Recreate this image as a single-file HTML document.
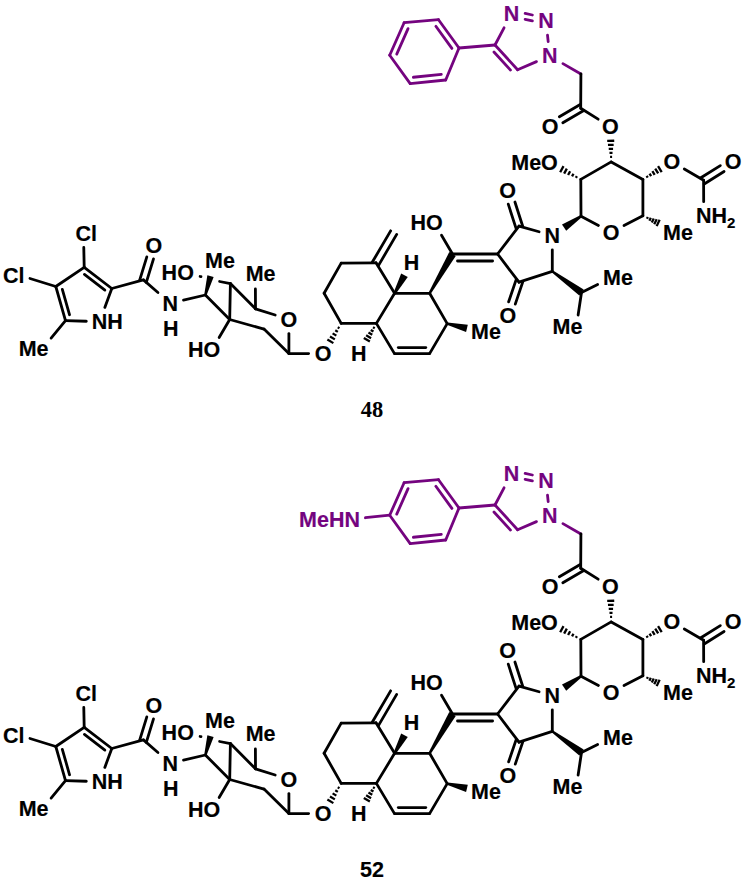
<!DOCTYPE html><html><head><meta charset="utf-8"><style>html,body{margin:0;padding:0;background:#fff;}svg{display:block;}</style></head><body>
<svg width="746" height="889" viewBox="0 0 746 889" style="font-family:'Liberation Sans',sans-serif;font-weight:bold">
<g stroke-width="2.8" stroke-linecap="round" fill="none">
<line x1="404.10" y1="22.70" x2="438.50" y2="19.70" stroke="#74047f"/>
<line x1="438.50" y1="19.70" x2="459.00" y2="48.00" stroke="#74047f"/>
<line x1="459.00" y1="48.00" x2="445.70" y2="80.00" stroke="#74047f"/>
<line x1="445.70" y1="80.00" x2="410.20" y2="83.60" stroke="#74047f"/>
<line x1="410.20" y1="83.60" x2="389.70" y2="55.20" stroke="#74047f"/>
<line x1="389.70" y1="55.20" x2="404.10" y2="22.70" stroke="#74047f"/>
<line x1="396.73" y1="54.16" x2="408.05" y2="28.60" stroke="#74047f"/>
<line x1="435.87" y1="26.30" x2="451.91" y2="48.44" stroke="#74047f"/>
<line x1="441.31" y1="74.41" x2="413.38" y2="77.25" stroke="#74047f"/>
<text x="541.94" y="63.40" fill="#74047f" stroke="#74047f" stroke-width="0.15" font-size="21.5">N</text>
<text x="538.24" y="28.20" fill="#74047f" stroke="#74047f" stroke-width="0.15" font-size="21.5">N</text>
<text x="503.74" y="21.00" fill="#74047f" stroke="#74047f" stroke-width="0.15" font-size="21.5">N</text>
<line x1="459.00" y1="48.00" x2="495.00" y2="45.00" stroke="#74047f"/>
<line x1="495.00" y1="45.00" x2="504.04" y2="27.80" stroke="#74047f"/>
<line x1="547.50" y1="35.10" x2="548.20" y2="41.70" stroke="#74047f"/>
<line x1="536.48" y1="61.64" x2="517.60" y2="69.70" stroke="#74047f"/>
<line x1="517.60" y1="69.70" x2="495.00" y2="45.00" stroke="#74047f"/>
<line x1="510.50" y1="70.09" x2="493.98" y2="52.03" stroke="#74047f"/>
<line x1="525.12" y1="19.40" x2="532.38" y2="20.92" stroke="#74047f"/>
<line x1="525.12" y1="13.48" x2="532.38" y2="15.00" stroke="#74047f"/>
<line x1="562.92" y1="63.62" x2="580.90" y2="74.00" stroke="#74047f"/>
<line x1="580.90" y1="74.00" x2="580.70" y2="108.30" stroke="#000"/>
<text x="541.65" y="133.70" fill="#000" stroke="#000" stroke-width="0.15" font-size="21.5">O</text>
<text x="602.05" y="134.20" fill="#000" stroke="#000" stroke-width="0.15" font-size="21.5">O</text>
<line x1="580.22" y1="104.52" x2="559.36" y2="116.76" stroke="#000"/>
<line x1="583.76" y1="110.56" x2="562.84" y2="122.83" stroke="#000"/>
<line x1="580.70" y1="108.30" x2="598.15" y2="119.17" stroke="#000"/>
<text x="602.85" y="239.60" fill="#000" stroke="#000" stroke-width="0.15" font-size="21.5">O</text>
<line x1="611.20" y1="161.90" x2="642.90" y2="179.40" stroke="#000"/>
<line x1="642.90" y1="179.40" x2="642.90" y2="215.80" stroke="#000"/>
<line x1="642.90" y1="215.80" x2="624.01" y2="225.57" stroke="#000"/>
<line x1="598.45" y1="225.45" x2="581.00" y2="216.20" stroke="#000"/>
<line x1="581.00" y1="216.20" x2="580.80" y2="179.40" stroke="#000"/>
<line x1="580.80" y1="179.40" x2="611.20" y2="161.90" stroke="#000"/>
<line x1="614.23" y1="140.76" x2="607.21" y2="140.92" stroke="#000" stroke-width="2.3" stroke-linecap="butt"/>
<line x1="613.65" y1="144.79" x2="607.97" y2="144.92" stroke="#000" stroke-width="2.3" stroke-linecap="butt"/>
<line x1="613.07" y1="148.82" x2="608.73" y2="148.92" stroke="#000" stroke-width="2.3" stroke-linecap="butt"/>
<line x1="612.50" y1="152.85" x2="609.49" y2="152.92" stroke="#000" stroke-width="2.3" stroke-linecap="butt"/>
<line x1="612.09" y1="156.88" x2="610.09" y2="156.92" stroke="#000" stroke-width="2.3" stroke-linecap="butt"/>
<text x="511.24" y="169.90" fill="#000" stroke="#000" stroke-width="0.15" font-size="21.5">MeO</text>
<line x1="563.51" y1="166.09" x2="560.18" y2="172.27" stroke="#000" stroke-width="2.3" stroke-linecap="butt"/>
<line x1="566.83" y1="168.64" x2="564.14" y2="173.64" stroke="#000" stroke-width="2.3" stroke-linecap="butt"/>
<line x1="570.15" y1="171.20" x2="568.09" y2="175.01" stroke="#000" stroke-width="2.3" stroke-linecap="butt"/>
<line x1="573.47" y1="173.75" x2="572.05" y2="176.38" stroke="#000" stroke-width="2.3" stroke-linecap="butt"/>
<line x1="576.87" y1="176.15" x2="575.92" y2="177.91" stroke="#000" stroke-width="2.3" stroke-linecap="butt"/>
<text x="663.55" y="169.20" fill="#000" stroke="#000" stroke-width="0.15" font-size="21.5">O</text>
<text x="724.65" y="169.20" fill="#000" stroke="#000" stroke-width="0.15" font-size="21.5">O</text>
<text x="695.98" y="223.40" fill="#000" stroke="#000" stroke-width="0.15" font-size="21.5">NH<tspan font-size="15" dy="4.5">2</tspan></text>
<line x1="661.68" y1="172.09" x2="658.06" y2="166.11" stroke="#000" stroke-width="2.3" stroke-linecap="butt"/>
<line x1="658.17" y1="173.46" x2="655.22" y2="168.60" stroke="#000" stroke-width="2.3" stroke-linecap="butt"/>
<line x1="654.66" y1="174.82" x2="652.39" y2="171.08" stroke="#000" stroke-width="2.3" stroke-linecap="butt"/>
<line x1="651.14" y1="176.19" x2="649.55" y2="173.57" stroke="#000" stroke-width="2.3" stroke-linecap="butt"/>
<line x1="647.69" y1="177.66" x2="646.66" y2="175.95" stroke="#000" stroke-width="2.3" stroke-linecap="butt"/>
<line x1="684.29" y1="168.99" x2="703.60" y2="180.20" stroke="#000"/>
<line x1="704.19" y1="183.96" x2="724.06" y2="171.52" stroke="#000"/>
<line x1="700.47" y1="178.03" x2="720.32" y2="165.61" stroke="#000"/>
<line x1="703.60" y1="180.20" x2="703.68" y2="201.70" stroke="#000"/>
<text x="663.01" y="239.90" fill="#000" stroke="#000" stroke-width="0.15" font-size="21.5">Me</text>
<line x1="656.68" y1="226.13" x2="659.63" y2="219.86" stroke="#000" stroke-width="2.3" stroke-linecap="butt"/>
<line x1="654.25" y1="224.31" x2="656.69" y2="219.15" stroke="#000" stroke-width="2.3" stroke-linecap="butt"/>
<line x1="651.83" y1="222.50" x2="653.75" y2="218.43" stroke="#000" stroke-width="2.3" stroke-linecap="butt"/>
<line x1="649.41" y1="220.68" x2="650.80" y2="217.72" stroke="#000" stroke-width="2.3" stroke-linecap="butt"/>
<line x1="646.98" y1="218.86" x2="647.86" y2="217.00" stroke="#000" stroke-width="2.3" stroke-linecap="butt"/>
<text x="544.54" y="242.90" fill="#000" stroke="#000" stroke-width="0.15" font-size="21.5">N</text>
<polygon points="580.33,215.20 581.67,217.20 566.19,230.68 562.00,224.46" fill="#000" stroke="none"/>
<text x="499.35" y="198.40" fill="#000" stroke="#000" stroke-width="0.15" font-size="21.5">O</text>
<text x="499.45" y="322.60" fill="#000" stroke="#000" stroke-width="0.15" font-size="21.5">O</text>
<line x1="539.08" y1="231.77" x2="519.00" y2="226.10" stroke="#000"/>
<line x1="519.00" y1="226.10" x2="497.60" y2="254.00" stroke="#000"/>
<line x1="497.60" y1="254.00" x2="519.00" y2="282.20" stroke="#000"/>
<line x1="519.00" y1="282.20" x2="552.30" y2="271.40" stroke="#000"/>
<line x1="552.30" y1="271.40" x2="552.30" y2="249.80" stroke="#000"/>
<line x1="522.79" y1="226.46" x2="514.93" y2="202.05" stroke="#000"/>
<line x1="516.13" y1="228.60" x2="508.27" y2="204.18" stroke="#000"/>
<line x1="516.17" y1="279.65" x2="508.65" y2="301.81" stroke="#000"/>
<line x1="522.80" y1="281.90" x2="515.27" y2="304.09" stroke="#000"/>
<text x="603.11" y="284.80" fill="#000" stroke="#000" stroke-width="0.15" font-size="21.5">Me</text>
<text x="552.51" y="333.50" fill="#000" stroke="#000" stroke-width="0.15" font-size="21.5">Me</text>
<polygon points="551.60,272.37 553.00,270.43 583.70,289.46 579.30,295.54" fill="#000" stroke="none"/>
<line x1="581.50" y1="292.50" x2="597.65" y2="284.52" stroke="#000"/>
<line x1="581.50" y1="292.50" x2="578.12" y2="315.03" stroke="#000"/>
<text x="410.41" y="230.30" fill="#000" stroke="#000" stroke-width="0.15" font-size="21.5">HO</text>
<line x1="452.50" y1="254.00" x2="497.60" y2="254.00" stroke="#000"/>
<line x1="457.50" y1="261.00" x2="492.60" y2="261.00" stroke="#000"/>
<line x1="452.50" y1="254.00" x2="441.51" y2="235.24" stroke="#000"/>
<line x1="429.60" y1="293.30" x2="447.20" y2="323.60" stroke="#000"/>
<line x1="447.20" y1="323.60" x2="429.60" y2="353.60" stroke="#000"/>
<line x1="429.60" y1="353.60" x2="394.50" y2="353.60" stroke="#000"/>
<line x1="394.50" y1="353.60" x2="376.40" y2="323.40" stroke="#000"/>
<line x1="376.40" y1="323.40" x2="394.60" y2="293.30" stroke="#000"/>
<line x1="394.60" y1="293.30" x2="429.60" y2="293.30" stroke="#000"/>
<line x1="394.60" y1="293.30" x2="376.00" y2="262.80" stroke="#000"/>
<line x1="376.00" y1="262.80" x2="341.20" y2="263.10" stroke="#000"/>
<line x1="341.20" y1="263.10" x2="324.10" y2="293.30" stroke="#000"/>
<line x1="324.10" y1="293.30" x2="341.20" y2="323.40" stroke="#000"/>
<line x1="341.20" y1="323.40" x2="376.40" y2="323.40" stroke="#000"/>
<line x1="425.80" y1="347.60" x2="398.30" y2="347.60" stroke="#000"/>
<line x1="378.26" y1="265.86" x2="396.68" y2="234.37" stroke="#000"/>
<line x1="372.22" y1="262.33" x2="390.64" y2="230.84" stroke="#000"/>
<polygon points="430.64,293.90 428.56,292.70 449.26,252.11 455.74,255.89" fill="#000" stroke="none"/>
<text x="471.01" y="338.90" fill="#000" stroke="#000" stroke-width="0.15" font-size="21.5">Me</text>
<polygon points="446.92,324.77 447.48,322.43 467.83,324.72 466.07,332.01" fill="#000" stroke="none"/>
<text x="403.74" y="269.80" fill="#000" stroke="#000" stroke-width="0.15" font-size="21.5">H</text>
<polygon points="395.65,293.88 393.55,292.72 401.18,273.45 407.76,277.05" fill="#000" stroke="none"/>
<text x="351.04" y="360.90" fill="#000" stroke="#000" stroke-width="0.15" font-size="21.5">H</text>
<line x1="363.84" y1="337.97" x2="369.86" y2="341.49" stroke="#000" stroke-width="2.3" stroke-linecap="butt"/>
<line x1="366.15" y1="335.29" x2="371.06" y2="338.17" stroke="#000" stroke-width="2.3" stroke-linecap="butt"/>
<line x1="368.46" y1="332.61" x2="372.27" y2="334.84" stroke="#000" stroke-width="2.3" stroke-linecap="butt"/>
<line x1="370.77" y1="329.93" x2="373.47" y2="331.51" stroke="#000" stroke-width="2.3" stroke-linecap="butt"/>
<line x1="373.01" y1="327.21" x2="374.74" y2="328.22" stroke="#000" stroke-width="2.3" stroke-linecap="butt"/>
<text x="314.65" y="360.90" fill="#000" stroke="#000" stroke-width="0.15" font-size="21.5">O</text>
<line x1="327.37" y1="339.50" x2="333.37" y2="343.13" stroke="#000" stroke-width="2.3" stroke-linecap="butt"/>
<line x1="330.00" y1="336.44" x2="334.86" y2="339.37" stroke="#000" stroke-width="2.3" stroke-linecap="butt"/>
<line x1="332.63" y1="333.37" x2="336.35" y2="335.62" stroke="#000" stroke-width="2.3" stroke-linecap="butt"/>
<line x1="335.26" y1="330.31" x2="337.84" y2="331.87" stroke="#000" stroke-width="2.3" stroke-linecap="butt"/>
<line x1="337.76" y1="327.16" x2="339.47" y2="328.20" stroke="#000" stroke-width="2.3" stroke-linecap="butt"/>
<line x1="308.63" y1="353.54" x2="288.90" y2="353.60" stroke="#000"/>
<text x="280.55" y="326.70" fill="#000" stroke="#000" stroke-width="0.15" font-size="21.5">O</text>
<line x1="288.90" y1="353.60" x2="288.90" y2="333.60" stroke="#000"/>
<line x1="275.16" y1="314.98" x2="255.50" y2="308.80" stroke="#000"/>
<line x1="255.50" y1="308.80" x2="255.40" y2="289.00" stroke="#000"/>
<line x1="230.40" y1="283.60" x2="255.50" y2="308.80" stroke="#000"/>
<line x1="230.40" y1="283.60" x2="229.70" y2="319.50" stroke="#000"/>
<line x1="229.70" y1="319.50" x2="264.00" y2="329.10" stroke="#000"/>
<line x1="264.00" y1="329.10" x2="288.90" y2="353.60" stroke="#000"/>
<line x1="205.40" y1="295.00" x2="229.70" y2="319.50" stroke="#000"/>
<text x="245.71" y="280.60" fill="#000" stroke="#000" stroke-width="0.15" font-size="21.5">Me</text>
<text x="187.91" y="357.30" fill="#000" stroke="#000" stroke-width="0.15" font-size="21.5">HO</text>
<line x1="229.70" y1="319.50" x2="219.14" y2="337.42" stroke="#000"/>
<polygon points="206.56,295.31 204.24,294.69 207.36,275.35 213.64,277.05" fill="#000" stroke="none"/>
<text x="205.11" y="267.70" fill="#000" stroke="#000" stroke-width="0.15" font-size="21.5">Me</text>
<text x="161.61" y="279.60" fill="#000" stroke="#000" stroke-width="0.15" font-size="21.5">HO</text>
<line x1="200.10" y1="276.50" x2="201.00" y2="276.70" stroke="#000"/>
<line x1="219.60" y1="281.50" x2="230.40" y2="283.60" stroke="#000"/>
<text x="162.54" y="310.60" fill="#000" stroke="#000" stroke-width="0.15" font-size="21.5">N</text>
<line x1="183.52" y1="300.11" x2="205.40" y2="295.00" stroke="#000"/>
<text x="162.94" y="336.40" fill="#000" stroke="#000" stroke-width="0.15" font-size="21.5">H</text>
<text x="91.78" y="329.10" fill="#000" stroke="#000" stroke-width="0.15" font-size="21.5">NH</text>
<line x1="84.20" y1="267.30" x2="111.80" y2="288.50" stroke="#000"/>
<line x1="111.80" y1="288.50" x2="104.82" y2="307.40" stroke="#000"/>
<line x1="86.32" y1="321.27" x2="65.50" y2="320.60" stroke="#000"/>
<line x1="65.50" y1="320.60" x2="55.80" y2="286.50" stroke="#000"/>
<line x1="55.80" y1="286.50" x2="84.20" y2="267.30" stroke="#000"/>
<line x1="104.88" y1="290.12" x2="84.42" y2="274.40" stroke="#000"/>
<line x1="62.32" y1="289.32" x2="69.56" y2="314.77" stroke="#000"/>
<text x="75.57" y="240.60" fill="#000" stroke="#000" stroke-width="0.15" font-size="21.5">Cl</text>
<line x1="84.20" y1="267.30" x2="83.78" y2="247.50" stroke="#000"/>
<text x="3.07" y="283.30" fill="#000" stroke="#000" stroke-width="0.15" font-size="21.5">Cl</text>
<line x1="55.80" y1="286.50" x2="29.95" y2="278.49" stroke="#000"/>
<text x="18.71" y="355.70" fill="#000" stroke="#000" stroke-width="0.15" font-size="21.5">Me</text>
<line x1="65.50" y1="320.60" x2="51.11" y2="338.05" stroke="#000"/>
<text x="145.55" y="253.10" fill="#000" stroke="#000" stroke-width="0.15" font-size="21.5">O</text>
<line x1="111.80" y1="288.50" x2="143.40" y2="279.90" stroke="#000"/>
<line x1="143.40" y1="279.90" x2="157.93" y2="292.49" stroke="#000"/>
<line x1="146.31" y1="282.36" x2="153.51" y2="258.89" stroke="#000"/>
<line x1="139.61" y1="280.31" x2="146.82" y2="256.84" stroke="#000"/>
<line x1="404.10" y1="482.70" x2="438.50" y2="479.70" stroke="#74047f"/>
<line x1="438.50" y1="479.70" x2="459.00" y2="508.00" stroke="#74047f"/>
<line x1="459.00" y1="508.00" x2="445.70" y2="540.00" stroke="#74047f"/>
<line x1="445.70" y1="540.00" x2="410.20" y2="543.60" stroke="#74047f"/>
<line x1="410.20" y1="543.60" x2="389.70" y2="515.20" stroke="#74047f"/>
<line x1="389.70" y1="515.20" x2="404.10" y2="482.70" stroke="#74047f"/>
<line x1="396.73" y1="514.16" x2="408.05" y2="488.60" stroke="#74047f"/>
<line x1="435.87" y1="486.30" x2="451.91" y2="508.44" stroke="#74047f"/>
<line x1="441.31" y1="534.41" x2="413.38" y2="537.25" stroke="#74047f"/>
<text x="299.05" y="526.50" fill="#74047f" stroke="#74047f" stroke-width="0.15" font-size="21.5">MeHN</text>
<line x1="389.70" y1="515.20" x2="365.42" y2="517.73" stroke="#74047f"/>
<text x="541.94" y="523.40" fill="#74047f" stroke="#74047f" stroke-width="0.15" font-size="21.5">N</text>
<text x="538.24" y="488.20" fill="#74047f" stroke="#74047f" stroke-width="0.15" font-size="21.5">N</text>
<text x="503.74" y="481.00" fill="#74047f" stroke="#74047f" stroke-width="0.15" font-size="21.5">N</text>
<line x1="459.00" y1="508.00" x2="495.00" y2="505.00" stroke="#74047f"/>
<line x1="495.00" y1="505.00" x2="504.04" y2="487.80" stroke="#74047f"/>
<line x1="547.50" y1="495.10" x2="548.20" y2="501.70" stroke="#74047f"/>
<line x1="536.48" y1="521.64" x2="517.60" y2="529.70" stroke="#74047f"/>
<line x1="517.60" y1="529.70" x2="495.00" y2="505.00" stroke="#74047f"/>
<line x1="510.50" y1="530.09" x2="493.98" y2="512.03" stroke="#74047f"/>
<line x1="525.12" y1="479.40" x2="532.38" y2="480.92" stroke="#74047f"/>
<line x1="525.12" y1="473.48" x2="532.38" y2="475.00" stroke="#74047f"/>
<line x1="562.92" y1="523.62" x2="580.90" y2="534.00" stroke="#74047f"/>
<line x1="580.90" y1="534.00" x2="580.70" y2="568.30" stroke="#000"/>
<text x="541.65" y="593.70" fill="#000" stroke="#000" stroke-width="0.15" font-size="21.5">O</text>
<text x="602.05" y="594.20" fill="#000" stroke="#000" stroke-width="0.15" font-size="21.5">O</text>
<line x1="580.22" y1="564.52" x2="559.36" y2="576.76" stroke="#000"/>
<line x1="583.76" y1="570.56" x2="562.84" y2="582.83" stroke="#000"/>
<line x1="580.70" y1="568.30" x2="598.15" y2="579.17" stroke="#000"/>
<text x="602.85" y="699.60" fill="#000" stroke="#000" stroke-width="0.15" font-size="21.5">O</text>
<line x1="611.20" y1="621.90" x2="642.90" y2="639.40" stroke="#000"/>
<line x1="642.90" y1="639.40" x2="642.90" y2="675.80" stroke="#000"/>
<line x1="642.90" y1="675.80" x2="624.01" y2="685.57" stroke="#000"/>
<line x1="598.45" y1="685.45" x2="581.00" y2="676.20" stroke="#000"/>
<line x1="581.00" y1="676.20" x2="580.80" y2="639.40" stroke="#000"/>
<line x1="580.80" y1="639.40" x2="611.20" y2="621.90" stroke="#000"/>
<line x1="614.23" y1="600.76" x2="607.21" y2="600.92" stroke="#000" stroke-width="2.3" stroke-linecap="butt"/>
<line x1="613.65" y1="604.79" x2="607.97" y2="604.92" stroke="#000" stroke-width="2.3" stroke-linecap="butt"/>
<line x1="613.07" y1="608.82" x2="608.73" y2="608.92" stroke="#000" stroke-width="2.3" stroke-linecap="butt"/>
<line x1="612.50" y1="612.85" x2="609.49" y2="612.92" stroke="#000" stroke-width="2.3" stroke-linecap="butt"/>
<line x1="612.09" y1="616.88" x2="610.09" y2="616.92" stroke="#000" stroke-width="2.3" stroke-linecap="butt"/>
<text x="511.24" y="629.90" fill="#000" stroke="#000" stroke-width="0.15" font-size="21.5">MeO</text>
<line x1="563.51" y1="626.09" x2="560.18" y2="632.27" stroke="#000" stroke-width="2.3" stroke-linecap="butt"/>
<line x1="566.83" y1="628.64" x2="564.14" y2="633.64" stroke="#000" stroke-width="2.3" stroke-linecap="butt"/>
<line x1="570.15" y1="631.20" x2="568.09" y2="635.01" stroke="#000" stroke-width="2.3" stroke-linecap="butt"/>
<line x1="573.47" y1="633.75" x2="572.05" y2="636.38" stroke="#000" stroke-width="2.3" stroke-linecap="butt"/>
<line x1="576.87" y1="636.15" x2="575.92" y2="637.91" stroke="#000" stroke-width="2.3" stroke-linecap="butt"/>
<text x="663.55" y="629.20" fill="#000" stroke="#000" stroke-width="0.15" font-size="21.5">O</text>
<text x="724.65" y="629.20" fill="#000" stroke="#000" stroke-width="0.15" font-size="21.5">O</text>
<text x="695.98" y="683.40" fill="#000" stroke="#000" stroke-width="0.15" font-size="21.5">NH<tspan font-size="15" dy="4.5">2</tspan></text>
<line x1="661.68" y1="632.09" x2="658.06" y2="626.11" stroke="#000" stroke-width="2.3" stroke-linecap="butt"/>
<line x1="658.17" y1="633.46" x2="655.22" y2="628.60" stroke="#000" stroke-width="2.3" stroke-linecap="butt"/>
<line x1="654.66" y1="634.82" x2="652.39" y2="631.08" stroke="#000" stroke-width="2.3" stroke-linecap="butt"/>
<line x1="651.14" y1="636.19" x2="649.55" y2="633.57" stroke="#000" stroke-width="2.3" stroke-linecap="butt"/>
<line x1="647.69" y1="637.66" x2="646.66" y2="635.95" stroke="#000" stroke-width="2.3" stroke-linecap="butt"/>
<line x1="684.29" y1="628.99" x2="703.60" y2="640.20" stroke="#000"/>
<line x1="704.19" y1="643.96" x2="724.06" y2="631.52" stroke="#000"/>
<line x1="700.47" y1="638.03" x2="720.32" y2="625.61" stroke="#000"/>
<line x1="703.60" y1="640.20" x2="703.68" y2="661.70" stroke="#000"/>
<text x="663.01" y="699.90" fill="#000" stroke="#000" stroke-width="0.15" font-size="21.5">Me</text>
<line x1="656.68" y1="686.13" x2="659.63" y2="679.86" stroke="#000" stroke-width="2.3" stroke-linecap="butt"/>
<line x1="654.25" y1="684.31" x2="656.69" y2="679.15" stroke="#000" stroke-width="2.3" stroke-linecap="butt"/>
<line x1="651.83" y1="682.50" x2="653.75" y2="678.43" stroke="#000" stroke-width="2.3" stroke-linecap="butt"/>
<line x1="649.41" y1="680.68" x2="650.80" y2="677.72" stroke="#000" stroke-width="2.3" stroke-linecap="butt"/>
<line x1="646.98" y1="678.86" x2="647.86" y2="677.00" stroke="#000" stroke-width="2.3" stroke-linecap="butt"/>
<text x="544.54" y="702.90" fill="#000" stroke="#000" stroke-width="0.15" font-size="21.5">N</text>
<polygon points="580.33,675.20 581.67,677.20 566.19,690.68 562.00,684.46" fill="#000" stroke="none"/>
<text x="499.35" y="658.40" fill="#000" stroke="#000" stroke-width="0.15" font-size="21.5">O</text>
<text x="499.45" y="782.60" fill="#000" stroke="#000" stroke-width="0.15" font-size="21.5">O</text>
<line x1="539.08" y1="691.77" x2="519.00" y2="686.10" stroke="#000"/>
<line x1="519.00" y1="686.10" x2="497.60" y2="714.00" stroke="#000"/>
<line x1="497.60" y1="714.00" x2="519.00" y2="742.20" stroke="#000"/>
<line x1="519.00" y1="742.20" x2="552.30" y2="731.40" stroke="#000"/>
<line x1="552.30" y1="731.40" x2="552.30" y2="709.80" stroke="#000"/>
<line x1="522.79" y1="686.46" x2="514.93" y2="662.05" stroke="#000"/>
<line x1="516.13" y1="688.60" x2="508.27" y2="664.18" stroke="#000"/>
<line x1="516.17" y1="739.65" x2="508.65" y2="761.81" stroke="#000"/>
<line x1="522.80" y1="741.90" x2="515.27" y2="764.09" stroke="#000"/>
<text x="603.11" y="744.80" fill="#000" stroke="#000" stroke-width="0.15" font-size="21.5">Me</text>
<text x="552.51" y="793.50" fill="#000" stroke="#000" stroke-width="0.15" font-size="21.5">Me</text>
<polygon points="551.60,732.37 553.00,730.43 583.70,749.46 579.30,755.54" fill="#000" stroke="none"/>
<line x1="581.50" y1="752.50" x2="597.65" y2="744.52" stroke="#000"/>
<line x1="581.50" y1="752.50" x2="578.12" y2="775.03" stroke="#000"/>
<text x="410.41" y="690.30" fill="#000" stroke="#000" stroke-width="0.15" font-size="21.5">HO</text>
<line x1="452.50" y1="714.00" x2="497.60" y2="714.00" stroke="#000"/>
<line x1="457.50" y1="721.00" x2="492.60" y2="721.00" stroke="#000"/>
<line x1="452.50" y1="714.00" x2="441.51" y2="695.24" stroke="#000"/>
<line x1="429.60" y1="753.30" x2="447.20" y2="783.60" stroke="#000"/>
<line x1="447.20" y1="783.60" x2="429.60" y2="813.60" stroke="#000"/>
<line x1="429.60" y1="813.60" x2="394.50" y2="813.60" stroke="#000"/>
<line x1="394.50" y1="813.60" x2="376.40" y2="783.40" stroke="#000"/>
<line x1="376.40" y1="783.40" x2="394.60" y2="753.30" stroke="#000"/>
<line x1="394.60" y1="753.30" x2="429.60" y2="753.30" stroke="#000"/>
<line x1="394.60" y1="753.30" x2="376.00" y2="722.80" stroke="#000"/>
<line x1="376.00" y1="722.80" x2="341.20" y2="723.10" stroke="#000"/>
<line x1="341.20" y1="723.10" x2="324.10" y2="753.30" stroke="#000"/>
<line x1="324.10" y1="753.30" x2="341.20" y2="783.40" stroke="#000"/>
<line x1="341.20" y1="783.40" x2="376.40" y2="783.40" stroke="#000"/>
<line x1="425.80" y1="807.60" x2="398.30" y2="807.60" stroke="#000"/>
<line x1="378.26" y1="725.86" x2="396.68" y2="694.37" stroke="#000"/>
<line x1="372.22" y1="722.33" x2="390.64" y2="690.84" stroke="#000"/>
<polygon points="430.64,753.90 428.56,752.70 449.26,712.11 455.74,715.89" fill="#000" stroke="none"/>
<text x="471.01" y="798.90" fill="#000" stroke="#000" stroke-width="0.15" font-size="21.5">Me</text>
<polygon points="446.92,784.77 447.48,782.43 467.83,784.72 466.07,792.01" fill="#000" stroke="none"/>
<text x="403.74" y="729.80" fill="#000" stroke="#000" stroke-width="0.15" font-size="21.5">H</text>
<polygon points="395.65,753.88 393.55,752.72 401.18,733.45 407.76,737.05" fill="#000" stroke="none"/>
<text x="351.04" y="820.90" fill="#000" stroke="#000" stroke-width="0.15" font-size="21.5">H</text>
<line x1="363.84" y1="797.97" x2="369.86" y2="801.49" stroke="#000" stroke-width="2.3" stroke-linecap="butt"/>
<line x1="366.15" y1="795.29" x2="371.06" y2="798.17" stroke="#000" stroke-width="2.3" stroke-linecap="butt"/>
<line x1="368.46" y1="792.61" x2="372.27" y2="794.84" stroke="#000" stroke-width="2.3" stroke-linecap="butt"/>
<line x1="370.77" y1="789.93" x2="373.47" y2="791.51" stroke="#000" stroke-width="2.3" stroke-linecap="butt"/>
<line x1="373.01" y1="787.21" x2="374.74" y2="788.22" stroke="#000" stroke-width="2.3" stroke-linecap="butt"/>
<text x="314.65" y="820.90" fill="#000" stroke="#000" stroke-width="0.15" font-size="21.5">O</text>
<line x1="327.37" y1="799.50" x2="333.37" y2="803.13" stroke="#000" stroke-width="2.3" stroke-linecap="butt"/>
<line x1="330.00" y1="796.44" x2="334.86" y2="799.37" stroke="#000" stroke-width="2.3" stroke-linecap="butt"/>
<line x1="332.63" y1="793.37" x2="336.35" y2="795.62" stroke="#000" stroke-width="2.3" stroke-linecap="butt"/>
<line x1="335.26" y1="790.31" x2="337.84" y2="791.87" stroke="#000" stroke-width="2.3" stroke-linecap="butt"/>
<line x1="337.76" y1="787.16" x2="339.47" y2="788.20" stroke="#000" stroke-width="2.3" stroke-linecap="butt"/>
<line x1="308.63" y1="813.54" x2="288.90" y2="813.60" stroke="#000"/>
<text x="280.55" y="786.70" fill="#000" stroke="#000" stroke-width="0.15" font-size="21.5">O</text>
<line x1="288.90" y1="813.60" x2="288.90" y2="793.60" stroke="#000"/>
<line x1="275.16" y1="774.98" x2="255.50" y2="768.80" stroke="#000"/>
<line x1="255.50" y1="768.80" x2="255.40" y2="749.00" stroke="#000"/>
<line x1="230.40" y1="743.60" x2="255.50" y2="768.80" stroke="#000"/>
<line x1="230.40" y1="743.60" x2="229.70" y2="779.50" stroke="#000"/>
<line x1="229.70" y1="779.50" x2="264.00" y2="789.10" stroke="#000"/>
<line x1="264.00" y1="789.10" x2="288.90" y2="813.60" stroke="#000"/>
<line x1="205.40" y1="755.00" x2="229.70" y2="779.50" stroke="#000"/>
<text x="245.71" y="740.60" fill="#000" stroke="#000" stroke-width="0.15" font-size="21.5">Me</text>
<text x="187.91" y="817.30" fill="#000" stroke="#000" stroke-width="0.15" font-size="21.5">HO</text>
<line x1="229.70" y1="779.50" x2="219.14" y2="797.42" stroke="#000"/>
<polygon points="206.56,755.31 204.24,754.69 207.36,735.35 213.64,737.05" fill="#000" stroke="none"/>
<text x="205.11" y="727.70" fill="#000" stroke="#000" stroke-width="0.15" font-size="21.5">Me</text>
<text x="161.61" y="739.60" fill="#000" stroke="#000" stroke-width="0.15" font-size="21.5">HO</text>
<line x1="200.10" y1="736.50" x2="201.00" y2="736.70" stroke="#000"/>
<line x1="219.60" y1="741.50" x2="230.40" y2="743.60" stroke="#000"/>
<text x="162.54" y="770.60" fill="#000" stroke="#000" stroke-width="0.15" font-size="21.5">N</text>
<line x1="183.52" y1="760.11" x2="205.40" y2="755.00" stroke="#000"/>
<text x="162.94" y="796.40" fill="#000" stroke="#000" stroke-width="0.15" font-size="21.5">H</text>
<text x="91.78" y="789.10" fill="#000" stroke="#000" stroke-width="0.15" font-size="21.5">NH</text>
<line x1="84.20" y1="727.30" x2="111.80" y2="748.50" stroke="#000"/>
<line x1="111.80" y1="748.50" x2="104.82" y2="767.40" stroke="#000"/>
<line x1="86.32" y1="781.27" x2="65.50" y2="780.60" stroke="#000"/>
<line x1="65.50" y1="780.60" x2="55.80" y2="746.50" stroke="#000"/>
<line x1="55.80" y1="746.50" x2="84.20" y2="727.30" stroke="#000"/>
<line x1="104.88" y1="750.12" x2="84.42" y2="734.40" stroke="#000"/>
<line x1="62.32" y1="749.32" x2="69.56" y2="774.77" stroke="#000"/>
<text x="75.57" y="700.60" fill="#000" stroke="#000" stroke-width="0.15" font-size="21.5">Cl</text>
<line x1="84.20" y1="727.30" x2="83.78" y2="707.50" stroke="#000"/>
<text x="3.07" y="743.30" fill="#000" stroke="#000" stroke-width="0.15" font-size="21.5">Cl</text>
<line x1="55.80" y1="746.50" x2="29.95" y2="738.49" stroke="#000"/>
<text x="18.71" y="815.70" fill="#000" stroke="#000" stroke-width="0.15" font-size="21.5">Me</text>
<line x1="65.50" y1="780.60" x2="51.11" y2="798.05" stroke="#000"/>
<text x="145.55" y="713.10" fill="#000" stroke="#000" stroke-width="0.15" font-size="21.5">O</text>
<line x1="111.80" y1="748.50" x2="143.40" y2="739.90" stroke="#000"/>
<line x1="143.40" y1="739.90" x2="157.93" y2="752.49" stroke="#000"/>
<line x1="146.31" y1="742.36" x2="153.51" y2="718.89" stroke="#000"/>
<line x1="139.61" y1="740.31" x2="146.82" y2="716.84" stroke="#000"/>
</g>
<text x="372.00" y="416.78" font-size="22.5" fill="#000" text-anchor="middle" style="font-family:'Liberation Serif',serif;font-weight:bold">48</text>
<text x="360.04" y="877.40" font-size="21.5" fill="#000" stroke="#000" stroke-width="0.15">52</text>
</svg></body></html>
